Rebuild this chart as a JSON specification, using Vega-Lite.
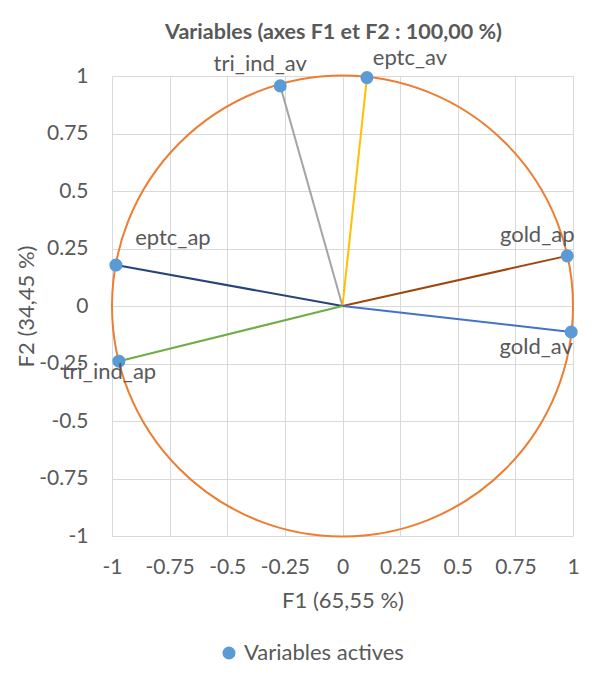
{
  "$schema": "https://vega.github.io/schema/vega-lite/v6.json",
  "width": 461,
  "height": 460,
  "autosize": {"type": "none"},
  "padding": {"left": 112, "top": 76, "right": 32, "bottom": 155},
  "background": "white",
  "title": {
    "text": "Variables (axes F1 et F2 : 100,00 %)",
    "font": "Lato",
    "fontSize": 21.5,
    "fontWeight": "bold",
    "color": "#595959",
    "frame": "group",
    "anchor": "middle",
    "offset": 3,
    "dx": -9
  },
  "data": {
    "values": [
      {"name": "tri_ind_av", "f1": -0.27, "f2": 0.957, "serie": "Variables actives"},
      {"name": "eptc_av", "f1": 0.106, "f2": 0.993, "serie": "Variables actives"},
      {"name": "gold_ap", "f1": 0.975, "f2": 0.218, "serie": "Variables actives"},
      {"name": "gold_av", "f1": 0.992, "f2": -0.113, "serie": "Variables actives"},
      {"name": "eptc_ap", "f1": -0.983, "f2": 0.178, "serie": "Variables actives"},
      {"name": "tri_ind_ap", "f1": -0.97, "f2": -0.24, "serie": "Variables actives"}
    ]
  },
  "config": {
    "view": {"stroke": null},
    "axis": {
      "grid": true,
      "gridColor": "#D9D9D9",
      "gridWidth": 1,
      "domain": false,
      "ticks": false,
      "labelFont": "Lato",
      "labelFontSize": 21,
      "labelColor": "#595959",
      "titleFont": "Lato",
      "titleFontSize": 22,
      "titleFontWeight": "normal",
      "titleColor": "#595959"
    },
    "text": {"font": "Lato", "fontSize": 22, "color": "#595959"}
  },
  "encoding": {
    "x": {
      "field": "f1",
      "type": "quantitative",
      "scale": {"domain": [-1, 1], "nice": false, "zero": false},
      "axis": {
        "title": "F1 (65,55 %)",
        "values": [-1, -0.75, -0.5, -0.25, 0, 0.25, 0.5, 0.75, 1],
        "labelExpr": "'' + datum.value",
        "labelPadding": 20,
        "titlePadding": 13,
        "labelFlush": false
      }
    },
    "y": {
      "field": "f2",
      "type": "quantitative",
      "scale": {"domain": [-1, 1], "nice": false, "zero": false},
      "axis": {
        "title": "F2 (34,45 %)",
        "values": [-1, -0.75, -0.5, -0.25, 0, 0.25, 0.5, 0.75, 1],
        "labelExpr": "'' + datum.value",
        "labelPadding": 24,
        "titlePadding": 0,
        "labelFlush": false
      }
    }
  },
  "layer": [
    {
      "data": {"values": [{"cx": 0, "cy": 0}]},
      "mark": {"type": "point", "shape": "circle", "filled": false, "size": 212521, "stroke": "#ED7D31", "strokeWidth": 2, "opacity": 1},
      "encoding": {
        "x": {"field": "cx", "type": "quantitative"},
        "y": {"field": "cy", "type": "quantitative"}
      }
    },
    {
      "mark": {"type": "rule", "strokeWidth": 2},
      "encoding": {
        "x2": {"datum": 0},
        "y2": {"datum": 0},
        "stroke": {
          "field": "name",
          "type": "nominal",
          "scale": {
            "domain": ["tri_ind_av", "eptc_av", "gold_ap", "gold_av", "eptc_ap", "tri_ind_ap"],
            "range": ["#A5A5A5", "#FFC000", "#9E480E", "#4472C4", "#264478", "#70AD47"]
          },
          "legend": null
        }
      }
    },
    {
      "mark": {"type": "point", "shape": "circle", "filled": true, "size": 170, "opacity": 1},
      "encoding": {
        "fill": {
          "field": "serie",
          "type": "nominal",
          "scale": {"range": ["#5B9BD5"]},
          "legend": {
            "title": null,
            "orient": "none",
            "legendX": 106,
            "legendY": 566,
            "direction": "horizontal",
            "symbolType": "circle",
            "symbolSize": 170,
            "labelFont": "Lato",
            "labelFontSize": 22,
            "labelColor": "#595959"
          }
        }
      }
    },
    {
      "transform": [{"filter": "datum.name === 'tri_ind_av'"}],
      "mark": {"type": "text", "align": "center", "baseline": "middle", "dx": -20, "dy": -22},
      "encoding": {"text": {"field": "name"}}
    },
    {
      "transform": [{"filter": "datum.name === 'eptc_av'"}],
      "mark": {"type": "text", "align": "center", "baseline": "middle", "dx": 43, "dy": -20},
      "encoding": {"text": {"field": "name"}}
    },
    {
      "transform": [{"filter": "datum.name === 'gold_ap'"}],
      "mark": {"type": "text", "align": "center", "baseline": "middle", "dx": -30, "dy": -21},
      "encoding": {"text": {"field": "name"}}
    },
    {
      "transform": [{"filter": "datum.name === 'gold_av'"}],
      "mark": {"type": "text", "align": "center", "baseline": "middle", "dx": -35, "dy": 15},
      "encoding": {"text": {"field": "name"}}
    },
    {
      "transform": [{"filter": "datum.name === 'eptc_ap'"}],
      "mark": {"type": "text", "align": "center", "baseline": "middle", "dx": 57, "dy": -27},
      "encoding": {"text": {"field": "name"}}
    },
    {
      "transform": [{"filter": "datum.name === 'tri_ind_ap'"}],
      "mark": {"type": "text", "align": "center", "baseline": "middle", "dx": -10, "dy": 11},
      "encoding": {"text": {"field": "name"}}
    }
  ]
}
